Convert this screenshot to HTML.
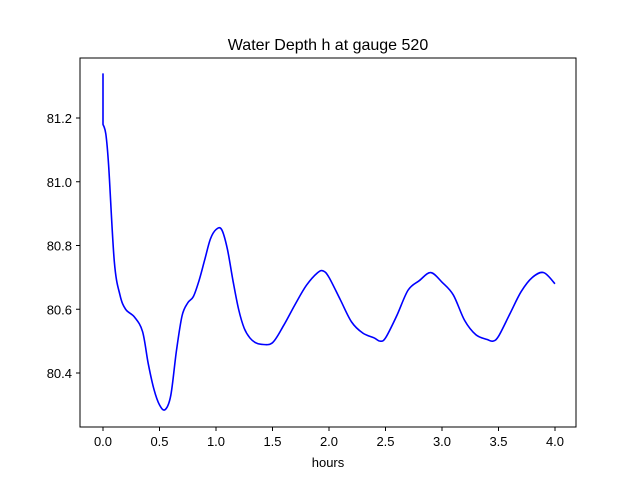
<!DOCTYPE html>
<html><head><meta charset="utf-8"><style>
body{margin:0;background:#fff;}
svg text{font-family:"Liberation Sans","DejaVu Sans",sans-serif;fill:#000;}
</style></head><body>
<svg id="chart" width="640" height="480" xmlns="http://www.w3.org/2000/svg">
<rect width="640" height="480" fill="#fff"/>
<text x="328" y="50" font-size="16" text-anchor="middle">Water Depth h at gauge 520</text>
<g id="xt"></g>
<g id="yt"></g>
<path id="line" fill="none" stroke="#0000ff" stroke-width="1.6"/>
<rect x="80" y="58" width="496" height="369" fill="none" stroke="#000" stroke-width="1"/>
<text x="328" y="467" font-size="13" text-anchor="middle">hours</text>
</svg>
<script>
const hours=[0,0,0.025,0.05,0.1,0.15,0.2,0.28,0.35,0.4,0.45,0.5,0.55,0.6,0.65,0.7,0.75,0.8,0.85,0.9,0.95,1.0,1.05,1.1,1.15,1.2,1.25,1.3,1.35,1.4,1.5,1.6,1.7,1.8,1.9,1.95,2.0,2.1,2.2,2.3,2.4,2.45,2.5,2.6,2.7,2.8,2.9,3.0,3.1,3.2,3.3,3.4,3.45,3.5,3.6,3.7,3.8,3.9,4.0];
const depth=[81.34,81.18,81.15,81.05,80.75,80.645,80.6,80.575,80.53,80.43,80.35,80.3,80.285,80.33,80.47,80.58,80.62,80.64,80.69,80.755,80.82,80.85,80.85,80.79,80.69,80.6,80.54,80.51,80.495,80.49,80.495,80.55,80.615,80.675,80.715,80.72,80.7,80.63,80.56,80.525,80.51,80.5,80.51,80.58,80.66,80.69,80.715,80.685,80.645,80.565,80.52,80.505,80.5,80.515,80.585,80.655,80.7,80.715,80.68];
const xTicks=[0,0.5,1,1.5,2,2.5,3,3.5,4];
const yTicks=[80.4,80.6,80.8,81.0,81.2];
const X=v=>103+(v)*113;
const Y=v=>118+(81.2-v)*318.75;
const NS="http://www.w3.org/2000/svg";
const xt=document.getElementById('xt'),yt=document.getElementById('yt');
xTicks.forEach(t=>{
 const l=document.createElementNS(NS,'line');
 
 
 l.setAttribute('x1',X(t));l.setAttribute('x2',X(t));l.setAttribute('y1',427);l.setAttribute('y2',431);l.setAttribute('stroke','#000');
 xt.appendChild(l);
 const s=document.createElementNS(NS,'text');
 
 
 s.setAttribute('x',X(t));s.setAttribute('y',446);s.setAttribute('font-size','13');s.setAttribute('text-anchor','middle');
 s.textContent=t.toFixed(1);xt.appendChild(s);
});
yTicks.forEach(t=>{
 const l=document.createElementNS(NS,'line');
 
 
 l.setAttribute('x1',76);l.setAttribute('x2',80);l.setAttribute('y1',Y(t));l.setAttribute('y2',Y(t));l.setAttribute('stroke','#000');
 yt.appendChild(l);
 const s=document.createElementNS(NS,'text');
 
 
 s.setAttribute('x',72);s.setAttribute('y',Y(t)+5);s.setAttribute('font-size','13');s.setAttribute('text-anchor','end');
 s.textContent=t.toFixed(1);yt.appendChild(s);
});
const P=hours.map((h,i)=>[X(h),Y(depth[i])]);
let d=`M${P[0][0]},${P[0][1]} L${P[1][0]},${P[1][1]}`;
for(let i=1;i<P.length-1;i++){
 const p0=P[Math.max(1,i-1)],p1=P[i],p2=P[i+1],p3=P[Math.min(P.length-1,i+2)];
 const c1=[p1[0]+(p2[0]-p0[0])/6,p1[1]+(p2[1]-p0[1])/6];
 const c2=[p2[0]-(p3[0]-p1[0])/6,p2[1]-(p3[1]-p1[1])/6];
 d+=` C${c1[0]},${c1[1]} ${c2[0]},${c2[1]} ${p2[0]},${p2[1]}`;
}
document.getElementById('line').setAttribute('d',d);
</script>
</body></html>
